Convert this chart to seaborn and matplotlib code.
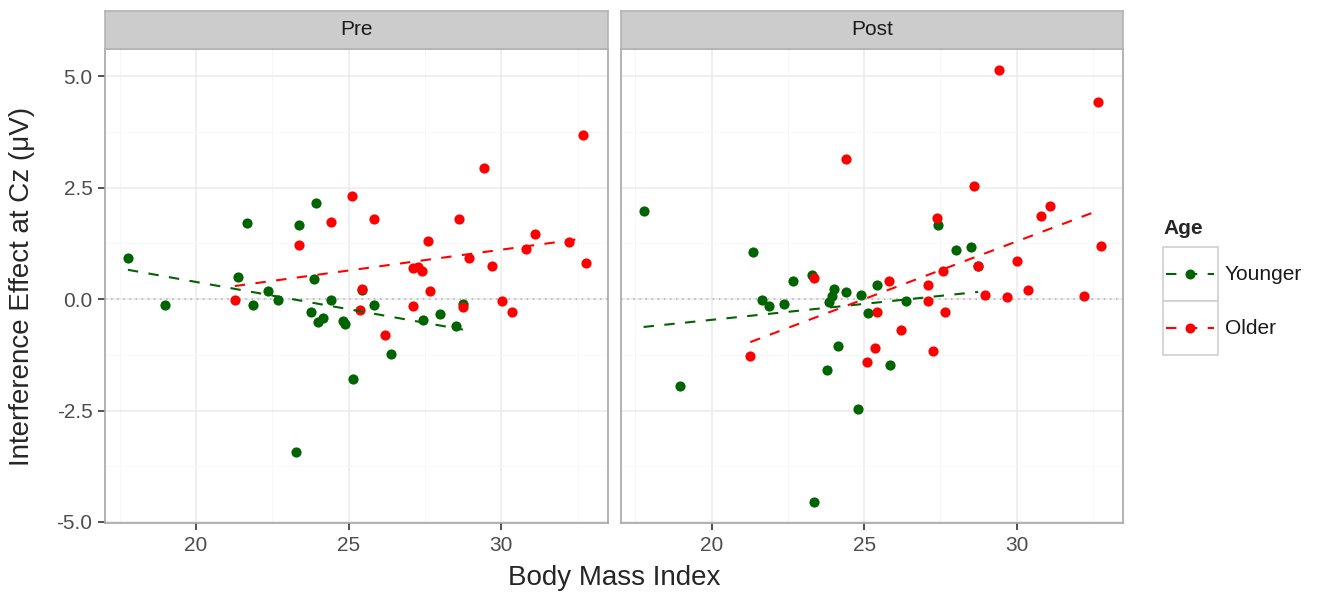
import numpy as np
import pandas as pd
import seaborn as sns
import matplotlib
matplotlib.use("Agg")
import matplotlib.pyplot as plt
from matplotlib.patches import Rectangle
from matplotlib.lines import Line2D

# Body Mass Index der Probanden (gleich fuer Pre und Post)
bmi_younger = [17.77, 18.97, 21.36, 21.66, 21.88, 22.36, 22.67, 23.28, 23.37, 23.77,
               23.86, 23.94, 24.00, 24.16, 24.42, 24.81, 24.89, 25.13, 25.43, 25.84,
               26.38, 27.44, 28.00, 28.52, 28.74]
pre_younger = [0.92, -0.13, 0.50, 1.70, -0.13, 0.18, -0.01, -3.44, 1.66, -0.29,
               0.46, 2.15, -0.52, -0.43, -0.01, -0.50, -0.57, -1.80, 0.20, -0.13,
               -1.23, -0.48, -0.34, -0.60, -0.11]
post_younger = [1.97, -1.95, 1.06, -0.01, -0.16, -0.10, 0.40, 0.53, -4.55, -1.58,
                -0.07, 0.07, 0.22, -1.06, 0.15, -2.47, 0.09, -0.31, 0.32, -1.48,
                -0.04, 1.66, 1.10, 1.17, 0.75]

bmi_older = [21.27, 23.36, 24.41, 25.10, 25.37, 25.42, 25.82, 26.20, 27.11, 27.11,
             27.27, 27.40, 27.60, 27.65, 28.62, 28.73, 28.95, 29.42, 29.69, 30.02,
             30.36, 30.79, 31.09, 32.21, 32.68, 32.76]
pre_older = [-0.01, 1.21, 1.72, 2.31, -0.24, 0.22, 1.79, -0.81, 0.69, -0.16,
             0.71, 0.62, 1.30, 0.17, 1.80, -0.17, 0.92, 2.94, 0.75, -0.04,
             -0.28, 1.13, 1.46, 1.28, 3.68, 0.82]
post_older = [-1.28, 0.48, 3.15, -1.42, -1.10, -0.28, 0.40, -0.69, 0.32, -0.05,
              -1.16, 1.81, 0.63, -0.30, 2.53, 0.74, 0.10, 5.13, 0.04, 0.86,
              0.20, 1.86, 2.09, 0.07, 4.43, 1.19]

zeiten = ["Pre", "Post"]
gruppen = ["Younger", "Older"]
farben = {"Younger": "#006400", "Older": "#FF0000"}
x_ticks = [20, 25, 30]
y_ticks = [-5.0, -2.5, 0.0, 2.5, 5.0]
y_tick_labels = ["-5.0", "-2.5", "0.0", "2.5", "5.0"]

teile = []
for gruppe, bmi, pre, post in [("Younger", bmi_younger, pre_younger, post_younger),
                               ("Older", bmi_older, pre_older, post_older)]:
    teile.append(pd.DataFrame({"BMI": bmi, "Effekt": pre, "Age": gruppe, "Zeit": "Pre"}))
    teile.append(pd.DataFrame({"BMI": bmi, "Effekt": post, "Age": gruppe, "Zeit": "Post"}))
daten = pd.concat(teile, ignore_index=True)

sns.set_theme(style="white")
plt.rcParams["font.family"] = ["Liberation Sans", "DejaVu Sans"]

W, H = 1323, 595
fig = plt.figure(figsize=(W / 100, H / 100), dpi=100)


def box(x0, y0, x1, y1):
    return [x0 / W, 1 - y1 / H, (x1 - x0) / W, (y1 - y0) / H]


panel_x = [(105, 608.3), (620.7, 1123.3)]
for i, zeit in enumerate(zeiten):
    x0, x1 = panel_x[i]
    ax = fig.add_axes(box(x0, 49, x1, 523.3))
    ax.set_facecolor("white")
    ax.set_axisbelow(True)
    ax.set_xticks(x_ticks)
    ax.set_xticks([17.5, 22.5, 27.5, 32.5], minor=True)
    ax.set_yticks(y_ticks)
    ax.set_yticks([-3.75, -1.25, 1.25, 3.75], minor=True)
    ax.grid(which="major", color="#EBEBEB", lw=1.1)
    ax.grid(which="minor", color="#F7F7F7", lw=0.7)
    ax.axhline(0, color="#B0B0B0", ls=(0, (1, 3)), lw=1.1, zorder=1)

    for gruppe in gruppen:
        sub = daten[(daten["Zeit"] == zeit) & (daten["Age"] == gruppe)]
        sns.regplot(data=sub, x="BMI", y="Effekt", ax=ax, ci=None,
                    color=farben[gruppe],
                    scatter_kws=dict(s=54, linewidths=0, alpha=1, zorder=3),
                    line_kws=dict(ls=(0, (5, 5)), lw=1.5, zorder=4))

    ax.set_xlim(17.02, 33.5)
    ax.set_ylim(-5.03, 5.61)
    ax.set_xlabel("")
    ax.set_ylabel("")
    for s in ax.spines.values():
        s.set_color("#A6A6A6")
        s.set_linewidth(1.2)
    ax.tick_params(axis="x", which="major", bottom=True, length=5, width=1.2,
                   color="#333333", labelsize=15, labelcolor="#4D4D4D", pad=4)
    ax.tick_params(which="minor", length=0)
    if i == 0:
        ax.set_yticklabels(y_tick_labels)
        ax.tick_params(axis="y", which="major", left=True, length=5, width=1.2,
                       color="#333333", labelsize=15, labelcolor="#4D4D4D", pad=4)
    else:
        ax.tick_params(axis="y", which="major", left=False, length=0, labelleft=False)

    # Facettenstreifen
    sax = fig.add_axes(box(x0, 10.5, x1, 49))
    sax.set_facecolor("#CCCCCC")
    sax.set_xticks([])
    sax.set_yticks([])
    for s in sax.spines.values():
        s.set_color("#B3B3B3")
        s.set_linewidth(1.2)
    sax.text(0.5, 0.5, zeit, ha="center", va="center", fontsize=15, color="#1A1A1A",
             transform=sax.transAxes)

fig.text(614 / W, 1 - 578 / H, "Body Mass Index", ha="center", va="center", fontsize=20)
fig.text(22 / W, 1 - 286 / H, "Interference Effect at Cz (μV)", ha="center", va="center",
         rotation=90, fontsize=20)

# Legende
lax = fig.add_axes([0, 0, 1, 1])
lax.set_xlim(0, W)
lax.set_ylim(H, 0)
lax.axis("off")
lax.text(1163, 228, "Age", fontsize=15, fontweight="bold", ha="left", va="center")
for k, gruppe in enumerate(gruppen):
    top = 247 + k * 54
    lax.add_patch(Rectangle((1162.7, top), 55, 54, facecolor="white",
                            edgecolor="#D0D0D0", lw=1.2))
    lax.add_line(Line2D([1166, 1214], [top + 27, top + 27], color=farben[gruppe],
                        ls=(0, (5, 5)), lw=1.5))
    lax.plot([1190], [top + 27], "o", color=farben[gruppe], ms=7.2, mew=0)
    lax.text(1225, top + 27, gruppe, fontsize=15, color="#1A1A1A", ha="left", va="center")

fig.savefig("out.png", dpi=100)
